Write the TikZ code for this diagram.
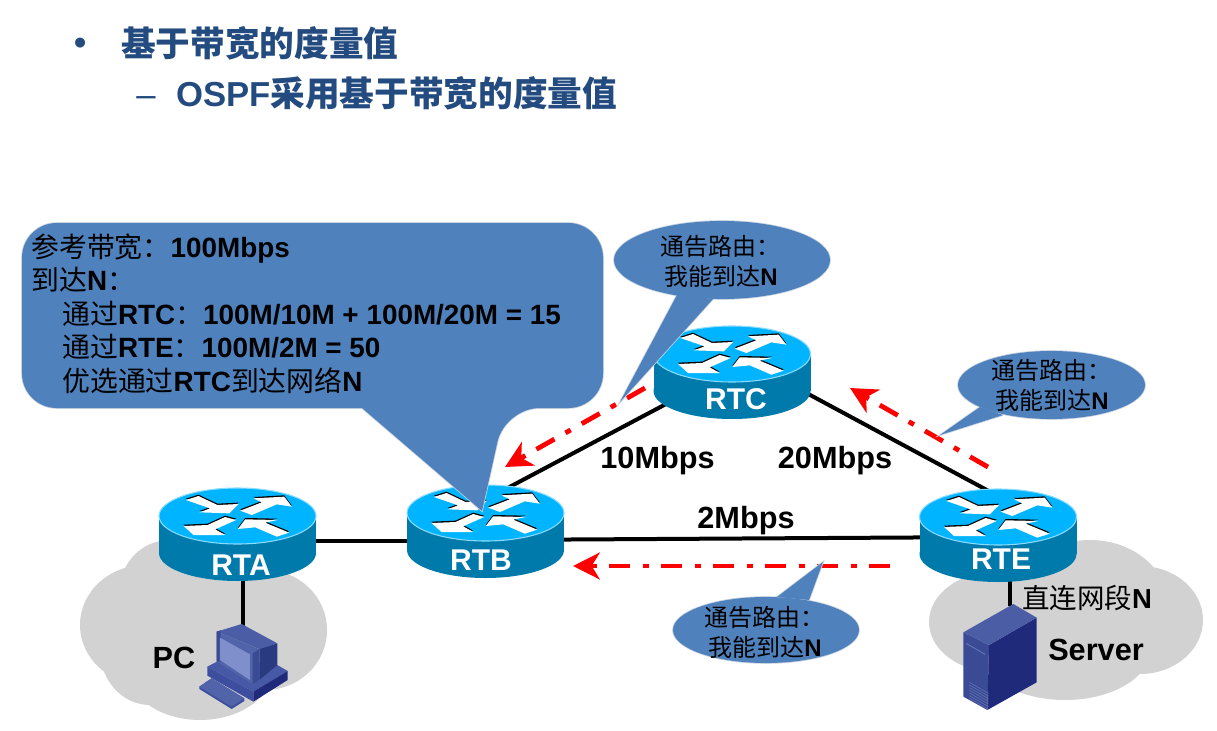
\documentclass[tikz,border=0pt]{standalone}
\usepackage{fontspec}
\setmainfont{Liberation Sans}
\newfontfamily\cjk{Noto Sans CJK SC}
\usetikzlibrary{arrows.meta,calc,backgrounds}
\definecolor{navy}{HTML}{234B80}
\definecolor{bubble}{HTML}{4F81BD}
\definecolor{bubbleedge}{HTML}{C9D3DF}
\definecolor{cloudgray}{HTML}{D2D2D2}
\definecolor{rtop}{HTML}{00B4FF}
\definecolor{rside}{HTML}{0079AB}
\definecolor{rrim}{HTML}{8ADCFF}
\definecolor{redarrow}{HTML}{FF0000}
\definecolor{blueA}{HTML}{3D4E9E}
\definecolor{blueB}{HTML}{5264A9}
\definecolor{blueC}{HTML}{4759A6}
\definecolor{blueD}{HTML}{1F2A7A}
\definecolor{blueE}{HTML}{2A3A80}
\definecolor{blueF}{HTML}{4B5DA5}
\definecolor{blueG}{HTML}{3A4A94}
\definecolor{blueH}{HTML}{7F8FCB}
\definecolor{blueI}{HTML}{6A7AB8}
\definecolor{blueJ}{HTML}{5F70B0}
\newcommand\zh[1]{{\cjk\mdseries #1}}
\tikzset{
  x=0.75pt,y=-0.75pt,
  titletext/.style={anchor=west,inner sep=0,text=navy,font=\fontsize{26}{30}\selectfont\bfseries},
  linktext/.style={inner sep=0,text=black,font=\fontsize{23}{27}\selectfont\bfseries},
  routertext/.style={inner sep=0,text=white,font=\fontsize{22.5}{26}\selectfont\bfseries},
  smalltext/.style={anchor=north west,inner sep=0,align=left,text=black,font=\fontsize{18}{22}\selectfont\bfseries},
  bigtext/.style={anchor=north west,inner sep=0,align=left,text=black,font=\fontsize{20.9}{25.1}\selectfont\bfseries},
  link/.style={draw=black,line width=3pt},
  advert/.style={draw=redarrow,line width=3.6pt,dash pattern=on 15.5pt off 9.5pt on 4.5pt off 9.5pt,
    -{Stealth[length=20pt,width=20pt,inset=6pt]}},
  bubblefill/.style={fill=bubble},
  bubblestroke/.style={draw=bubbleedge,line width=1.2pt},
}
\newcommand\routerdraw[5]{%
  \begin{scope}[shift={(#2,#3)}]
    \fill[rside] (0,37) ellipse [x radius=78.5,y radius=28];
    \fill[rside] (-78.5,0) rectangle (78.5,37);
    \filldraw[fill=rtop,draw=rrim,line width=0.8pt] (0,0) ellipse [x radius=78.5,y radius=28];
    \begin{scope}[scale=0.3333,shift={(-322,-138)}]
      \foreach \c/\d in {black/-4,white/0}{
        \fill[\c,shift={(0,\d)}] (167,90)--(205,78)--(262,105)--(325,102)--(297,130)--(208,127)--(240,115)--cycle;
        \fill[\c,shift={(0,\d)}] (330,122)--(395,97)--(370,85)--(462,80)--(485,110)--(440,103)--(365,135)--cycle;
        \fill[\c,shift={(0,\d)}] (160,168)--(232,165)--(285,141)--(318,150)--(255,178)--(285,195)--(190,195)--cycle;
        \fill[\c,shift={(0,\d)}] (323,177)--(345,148)--(442,150)--(405,158)--(477,188)--(440,200)--(375,172)--cycle;
      }
    \end{scope}
  \end{scope}
  \node[routertext] (#1) at (#4,#5) {#1};
}
\begin{document}
\begin{tikzpicture}
\useasboundingbox (0,0) rectangle (1217,731);

% title
\node[titletext,anchor=center] (b1) at (81,46) {•};
\node[titletext] (t1) at (121,43) {\cjk 基于带宽的度量值};
\node[titletext,anchor=center,font=\fontsize{26}{30}\selectfont] (b2) at (146,102) {–};
\node[titletext] (t2) at (176,93) {OSPF{\cjk 采用基于带宽的度量值}};

% routers
\routerdraw{RTA}{237.5}{516}{241}{565}
\routerdraw{RTB}{485.5}{513}{481}{560}
\routerdraw{RTC}{732}{354}{736}{399}
\routerdraw{RTE}{998}{517}{1001}{559}

\coordinate (pcport) at (243,628);
\coordinate (srvport) at (1010,606);

\begin{pgfonlayer}{background}
  \fill[white] (0,0) rectangle (1217,731);
  % clouds
  \fill[cloudgray] (145,625) ellipse [x radius=65,y radius=60];
  \fill[cloudgray] (170,590) ellipse [x radius=50,y radius=50];
  \fill[cloudgray] (265,630) ellipse [x radius=62,y radius=60];
  \fill[cloudgray] (200,665) ellipse [x radius=75,y radius=55];
  \fill[cloudgray] (150,650) ellipse [x radius=50,y radius=55];
  \fill[cloudgray] (215,610) ellipse [x radius=60,y radius=60];
  \fill[cloudgray] (995,622) ellipse [x radius=66,y radius=50];
  \fill[cloudgray] (1090,605) ellipse [x radius=78,y radius=65];
  \fill[cloudgray] (1140,620) ellipse [x radius=63,y radius=54];
  \fill[cloudgray] (1065,650) ellipse [x radius=85,y radius=50];
  % links
  \draw[link] ($(RTA)+(-3,-24)$) -- ($(RTB)+(4,-19)$);
  \draw[link] ($(RTB)+(4,-20)$) -- ($(RTE)+(-3,-22)$);
  \draw[link] ($(RTB)+(4,-60)$) -- ($(RTC)+(-4,-30)$);
  \draw[link] ($(RTC)+(-4,-46)$) -- ($(RTE)+(-3,-63)$);
  \draw[link] ($(RTA)+(2,0)$) -- (pcport);
  \draw[link] ($(RTE)+(9,0)$) -- (srvport);
\end{pgfonlayer}

% PC
\begin{scope}[shift={(190,615)},scale=0.3333]
  \fill[blueA] (28,215)--(65,190)--(163,250)--(163,258)--(125,282)--(28,222)--cycle;
  \fill[blueB] (28,215)--(65,190)--(163,250)--(125,275)--cycle;
  \fill[blueC] (52,155)--(100,130)--(262,150)--(293,168)--(190,230)--cycle;
  \fill[blueA] (52,155)--(190,230)--(190,260)--(52,182)--cycle;
  \fill[blueD] (190,230)--(293,168)--(293,195)--(190,260)--cycle;
  \fill[blueE] (208,100)--(262,85)--(262,150)--(208,195)--cycle;
  \fill[blueF] (80,50)--(155,27)--(262,85)--(208,102)--cycle;
  \fill[blueB] (80,50)--(208,102)--(208,195)--(188,207)--(80,140)--cycle;
  \fill[blueG] (188,115)--(208,102)--(208,195)--(188,207)--cycle;
  \fill[blueG] (80,50)--(92,46)--(92,140)--(80,140)--cycle;
  \fill[blueH] (90,68)--(180,118)--(180,195)--(90,135)--cycle;
\end{scope}

% server
\begin{scope}[shift={(950,595)},scale=0.3333]
  \fill[blueG] (40,112)--(117,150)--(112,345)--(40,305)--cycle;
  \fill[blueD] (117,150)--(260,68)--(260,262)--(112,345)--cycle;
  \fill[blueF] (40,112)--(190,27)--(260,68)--(117,150)--cycle;
  \draw[blueI,line width=0.6pt] (48,145)--(105,178);
  \foreach \v in {0,8,...,48}{
    \draw[blueJ,line width=0.5pt] (58,262+\v)--(115,295+\v);
  }
\end{scope}

% labels
\node[linktext] (l10) at (657.5,460.5) {10Mbps};
\node[linktext] (l20) at (835,460.5) {20Mbps};
\node[linktext] (l2) at (746,520.5) {2Mbps};
\node[linktext] (pc) at (174,658) {PC};
\node[linktext] (srv) at (1096,650) {Server};
\node[linktext,anchor=west,font=\fontsize{20.6}{24}\selectfont\bfseries] (dn) at (1022,598) {\zh{直连网段}N};

% advert arrows
\coordinate (a1s) at (645,388);
\coordinate (a1e) at (505,467);
\coordinate (a2s) at (988,467);
\coordinate (a2e) at (850,388);
\coordinate (a3s) at (890,566);
\coordinate (a3e) at (573,566);
\draw[advert] (a1s) -- (a1e);
\draw[advert] (a2s) -- (a2e);
\draw[advert] (a3s) -- (a3e);

% big callout
\draw[bubblestroke,rounded corners=26pt] (22,316) -- (22,223) -- (603,223) -- (603,408) -- (505,408) [sharp corners] -- (482,511) -- (362,408) [rounded corners=26pt] -- (22,408) -- cycle;
\fill[bubblefill,rounded corners=26pt] (22,316) -- (22,223) -- (603,223) -- (603,408) -- (505,408) [sharp corners] -- (482,511) -- (362,408) [rounded corners=26pt] -- (22,408) -- cycle;
\node[bigtext] (big) at (31,233.5) {\zh{参考带宽：}100Mbps\\
\zh{到达}N\zh{：}\\
\hspace*{23.25pt}\zh{通过}RTC\zh{：}100M/10M + 100M/20M = 15\\
\hspace*{23.25pt}\zh{通过}RTE\zh{：}100M/2M = 50\\
\hspace*{23.25pt}\zh{优选通过}RTC\zh{到达网络}N};

% small callouts
\draw[bubblestroke] (722,260) ellipse [x radius=108,y radius=39];
\draw[bubblestroke] (677,295) -- (620,402) -- (713,299);
\fill[bubblefill] (722,260) ellipse [x radius=108,y radius=39];
\fill[bubblefill] (677,295) -- (620,402) -- (713,299) -- cycle;
\node[smalltext] (c1) at (660,235.5) {\zh{通告路由：}\\\hspace*{3pt}\zh{我能到达}N};

\draw[bubblestroke] (1051.5,385) ellipse [x radius=93.5,y radius=34];
\draw[bubblestroke] (980,407) -- (940,435) -- (1003,415);
\fill[bubblefill] (1051.5,385) ellipse [x radius=93.5,y radius=34];
\fill[bubblefill] (980,407) -- (940,435) -- (1003,415) -- cycle;
\node[smalltext] (c2) at (991,359.5) {\zh{通告路由：}\\\hspace*{3pt}\zh{我能到达}N};

\draw[bubblestroke] (766,630) ellipse [x radius=93,y radius=33];
\draw[bubblestroke] (777,597) -- (823,562) -- (809,600);
\fill[bubblefill] (766,630) ellipse [x radius=93,y radius=33];
\fill[bubblefill] (777,597) -- (823,562) -- (809,600) -- cycle;
\node[smalltext] (c3) at (704,606.5) {\zh{通告路由：}\\\hspace*{3pt}\zh{我能到达}N};
\end{tikzpicture}
\end{document}
